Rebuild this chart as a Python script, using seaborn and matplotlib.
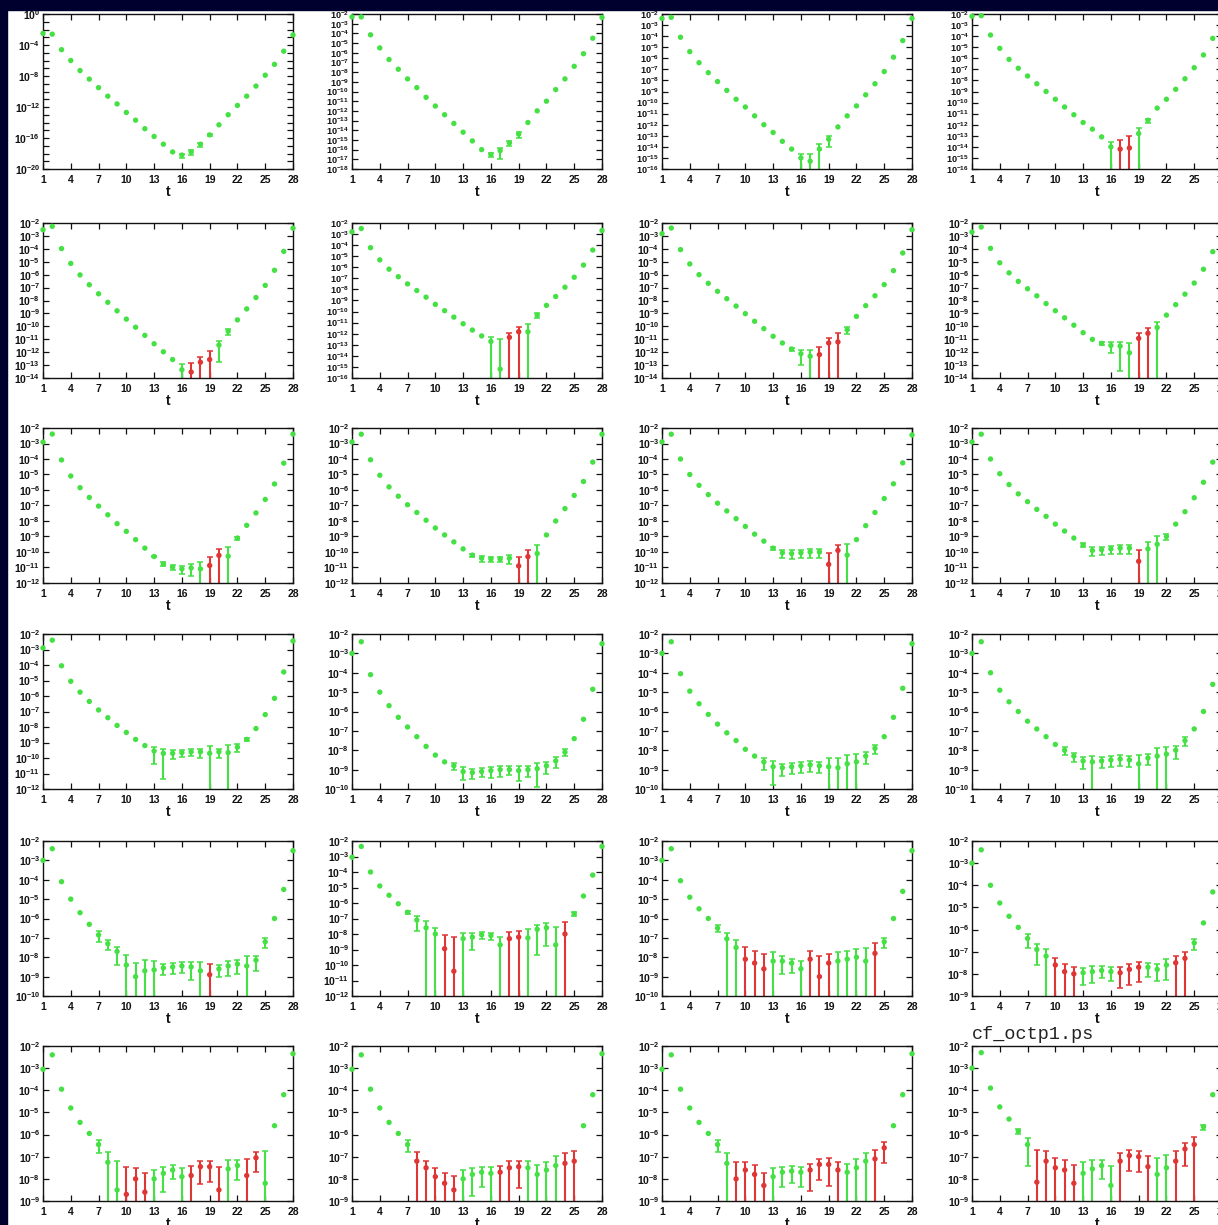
import numpy as np
import pandas as pd
import matplotlib
matplotlib.use("Agg")
import matplotlib.pyplot as plt
from matplotlib.patches import Rectangle
from matplotlib.ticker import FixedLocator, FuncFormatter, NullLocator
import seaborn as sns

# Euclidean time slices and axis ticks
t_slices = list(range(1, 29))
t_ticks = [1, 4, 7, 10, 13, 16, 19, 22, 25, 28]

# Each panel: log10|C(t)|, log10(sigma) (None = error too small to show),
# time slices where C(t) < 0, and the lowest decade on the y axis.
c01 = [-2.5, -2.6, -4.6, -6.0, -7.3, -8.4, -9.5, -10.6, -11.6, -12.7, -13.7, -14.8, -15.8, -16.8,
       -17.8, -18.2, -17.8, -16.8, -15.6, -14.3, -13.0, -11.8, -10.6, -9.3, -7.9, -6.5, -4.8, -2.7]
e01 = [None] * 15 + [-18.44, -18.04, -17.04, -16.2] + [None] * 9
n01 = []
f01 = -20

c02 = [-2.3, -2.3, -4.15, -5.5, -6.7, -7.7, -8.7, -9.6, -10.6, -11.5, -12.4, -13.3, -14.2, -15.1,
       -16.0, -16.5, -16.1, -15.3, -14.4, -13.2, -12.0, -11.0, -9.8, -8.7, -7.4, -6.1, -4.5, -2.35]
e02 = [None] * 15 + [-16.8, -16.16, -15.6, -14.64] + [None] * 9
n02 = []
f02 = -18

c03 = [-2.4, -2.3, -4.1, -5.4, -6.4, -7.3, -8.1, -8.9, -9.7, -10.4, -11.2, -12.0, -12.7, -13.5,
       -14.2, -15.0, -15.3, -14.2, -13.3, -12.2, -11.2, -10.3, -9.3, -8.3, -7.2, -5.9, -4.4, -2.4]
e03 = [None] * 15 + [-14.85, -14.7, -13.95, -13.4] + [None] * 9
n03 = []
f03 = -16

c04 = [-2.2, -2.15, -3.9, -5.1, -6.1, -6.9, -7.6, -8.3, -9.0, -9.7, -10.4, -11.1, -11.8, -12.4,
       -13.1, -14.0, -14.2, -14.1, -12.8, -11.6, -10.5, -9.7, -8.8, -7.85, -6.85, -5.7, -4.2, -2.2]
e04 = [None] * 15 + [-13.8, -13.5, -13.1, -12.45, -11.95] + [None] * 8
n04 = [17, 18]
f04 = -16

c05 = [-2.52, -2.26, -3.98, -5.13, -6.02, -6.78, -7.48, -8.14, -8.8, -9.44, -10.07, -10.7, -11.35, -11.97,
       -12.57, -13.36, -13.54, -12.78, -12.57, -11.45, -10.38, -9.5, -8.65, -7.77, -6.83, -5.66, -4.2, -2.4]
e05 = [None] * 15 + [-13.15, -12.9, -12.6, -12.0, -11.47, -10.73] + [None] * 7
n05 = [17, 18, 19]
f05 = -14

c06 = [-2.8, -2.5, -4.23, -5.33, -6.17, -6.85, -7.5, -8.1, -8.7, -9.35, -9.92, -10.5, -11.1, -11.67,
       -12.2, -12.7, -15.2, -12.33, -11.82, -11.82, -10.33, -9.44, -8.64, -7.8, -6.9, -5.8, -4.44, -2.68]
e06 = [None] * 15 + [-12.55, -12.5, -12.15, -11.6, -11.2, -10.68] + [None] * 7
n06 = [18, 19]
f06 = -16

c07 = [-2.83, -2.39, -4.06, -5.17, -6.0, -6.67, -7.29, -7.86, -8.43, -9.02, -9.61, -10.18, -10.77, -11.29,
       -11.75, -12.12, -12.32, -12.19, -11.29, -11.21, -10.26, -9.23, -8.4, -7.63, -6.77, -5.69, -4.32, -2.52]
e07 = [None] * 14 + [-12.35, -12.18, -11.95, -11.72, -11.1, -10.65, -10.5] + [None] * 7
n07 = [18, 19, 20]
f07 = -14

c08 = [-2.7, -2.31, -3.96, -5.08, -5.86, -6.52, -7.09, -7.64, -8.24, -8.79, -9.34, -9.91, -10.49, -11.01,
       -11.32, -11.48, -11.53, -12.05, -10.93, -10.54, -10.09, -9.13, -8.32, -7.51, -6.65, -5.58, -4.22, -2.4]
e08 = [None] * 14 + [-11.92, -11.6, -11.535, -11.4, -10.78, -10.4, -9.9] + [None] * 7
n08 = [19, 20]
f08 = -14

c09 = [-2.91, -2.39, -4.06, -5.1, -5.85, -6.48, -7.04, -7.6, -8.17, -8.67, -9.2, -9.75, -10.29, -10.77,
       -10.98, -11.09, -11.03, -11.09, -10.87, -10.22, -10.27, -9.1, -8.28, -7.48, -6.61, -5.61, -4.27, -2.39]
e09 = [None] * 12 + [-11.2, -11.37, -11.4, -11.37, -11.2, -10.8, -10.5, -10.0, -9.8, -9.7] + [None] * 6
n09 = [19, 20]
f09 = -12

c10 = [-2.9, -2.4, -4.05, -5.05, -5.8, -6.4, -6.95, -7.45, -7.95, -8.45, -8.9, -9.35, -9.8, -10.2,
       -10.4, -10.45, -10.45, -10.4, -10.9, -10.3, -10.1, -8.9, -8.0, -7.2, -6.35, -5.45, -4.2, -2.4]
e10 = [None] * 13 + [-10.8, -10.8, -10.85, -10.85, -10.64, -10.45, -10.05, -9.65] + [None] * 7
n10 = [19, 20]
f10 = -12

c11 = [-2.9, -2.4, -4.0, -5.0, -5.7, -6.3, -6.85, -7.35, -7.85, -8.35, -8.85, -9.3, -9.75, -10.05,
       -10.1, -10.05, -10.0, -10.0, -10.8, -9.9, -10.2, -9.2, -8.3, -7.45, -6.55, -5.6, -4.25, -2.45]
e11 = [None] * 12 + [-10.4, -10.3, -10.34, -10.3, -10.25, -10.25, -10.15, -9.75, -9.55] + [None] * 7
n11 = [19, 20]
f11 = -12

c12 = [-2.9, -2.4, -4.0, -4.95, -5.65, -6.25, -6.75, -7.25, -7.7, -8.2, -8.65, -9.1, -9.55, -9.9,
       -9.85, -9.8, -9.75, -9.75, -10.6, -9.8, -9.5, -9.0, -8.2, -7.4, -6.5, -5.5, -4.2, -2.4]
e12 = [None] * 12 + [-10.1, -10.15, -10.1, -10.05, -10.0, -10.0, -10.0, -9.55, -9.1, -9.4] + [None] * 6
n12 = [19]
f12 = -12

c13 = [-2.9, -2.4, -4.05, -5.05, -5.75, -6.35, -6.9, -7.4, -7.9, -8.35, -8.8, -9.2, -9.55, -9.7,
       -9.7, -9.65, -9.6, -9.6, -9.7, -9.6, -9.65, -9.3, -8.8, -8.1, -7.2, -6.15, -4.45, -2.45]
e13 = [None] * 12 + [-9.62, -9.71, -9.94, -10.0, -9.95, -9.84, -9.45, -9.84, -9.35, -9.6, -9.4] + [None] * 5
n13 = []
f13 = -12

c14 = [-3.0, -2.4, -4.1, -5.0, -5.7, -6.3, -6.8, -7.3, -7.8, -8.25, -8.6, -8.8, -9.1, -9.15,
       -9.1, -9.05, -9.0, -9.0, -9.05, -9.0, -8.95, -8.8, -8.55, -8.1, -7.4, -6.4, -4.85, -2.5]
e14 = [None] * 11 + [-9.2, -9.3, -9.4, -9.4, -9.3, -9.25, -9.3, -9.2, -9.25, -9.0, -9.0, -8.8, -8.5] + [None] * 4
n14 = []
f14 = -10

c15 = [-3.0, -2.4, -4.05, -4.95, -5.6, -6.15, -6.65, -7.1, -7.5, -7.95, -8.3, -8.6, -8.85, -8.9,
       -8.85, -8.8, -8.75, -8.8, -8.85, -8.9, -8.7, -8.6, -8.3, -7.9, -7.3, -6.3, -4.8, -2.5]
e15 = [None] * 11 + [-8.8, -8.9, -9.1, -9.1, -9.05, -9.0, -9.05, -8.6, -8.6, -8.45, -8.4, -8.5, -8.2] + [None] * 4
n15 = []
f15 = -10

c16 = [-3.0, -2.4, -4.0, -4.9, -5.5, -6.0, -6.5, -6.9, -7.3, -7.7, -8.0, -8.3, -8.55, -8.6,
       -8.55, -8.5, -8.45, -8.5, -8.7, -8.4, -8.3, -8.2, -8.0, -7.5, -6.9, -6.0, -4.6, -2.5]
e16 = [None] * 10 + [-8.4, -8.6, -8.75, -8.6, -8.8, -8.75, -8.7, -8.75, -8.4, -8.65, -8.1, -8.1, -8.2, -7.8] + [None] * 4
n16 = []
f16 = -10

c17 = [-3.0, -2.4, -4.1, -5.0, -5.7, -6.3, -6.85, -7.3, -7.7, -8.4, -9.0, -8.7, -8.65, -8.55,
       -8.5, -8.45, -8.5, -8.7, -8.9, -8.6, -8.45, -8.35, -8.45, -8.15, -7.2, -6.0, -4.5, -2.5]
e17 = [None] * 6 + [-7.1, -7.6, -7.8, -8.05, -8.4, -8.3, -8.4, -8.8, -8.75, -8.7, -8.6, -8.4, -8.5,
                    -8.8, -8.6, -8.5, -8.1, -8.3, -7.5] + [None] * 3
n17 = [19]
f17 = -10

c18 = [-3.05, -2.35, -4.0, -4.9, -5.5, -6.05, -6.6, -7.1, -7.6, -8.0, -8.95, -10.4, -8.3, -8.2,
       -8.05, -8.1, -8.7, -8.3, -8.2, -8.25, -7.7, -7.6, -8.7, -8.0, -6.7, -5.55, -4.2, -2.35]
e18 = [None] * 6 + [-7.2, -7.2, -7.4, -7.8, -8.15, -8.2, -8.15, -8.27, -8.4, -8.45, -8.35, -8.1, -8.0,
                    -7.85, -7.71, -7.63, -7.55, -7.3, -7.3] + [None] * 3
n18 = [11, 12, 18, 19, 24]
f18 = -12

c19 = [-3.0, -2.4, -4.05, -4.9, -5.5, -6.0, -6.5, -7.05, -7.5, -8.1, -8.3, -8.6, -8.2, -8.2,
       -8.3, -8.6, -8.1, -9.0, -8.3, -8.2, -8.1, -8.0, -8.2, -7.8, -7.2, -6.0, -4.6, -2.5]
e19 = [None] * 6 + [-6.9, -7.0, -7.3, -7.6, -7.8, -7.9, -7.9, -8.3, -8.45, -8.4, -7.9, -8.0, -8.0,
                    -7.9, -7.85, -7.8, -7.6, -7.4, -7.5] + [None] * 3
n19 = [10, 11, 12, 17, 18, 19, 24]
f19 = -10

c20 = [-3.0, -2.4, -4.0, -4.8, -5.4, -5.9, -6.4, -6.9, -7.2, -7.6, -7.9, -8.0, -7.95, -7.9,
       -7.85, -7.9, -7.95, -7.8, -7.7, -7.7, -7.8, -7.6, -7.5, -7.3, -6.6, -5.7, -4.3, -2.4]
e20 = [None] * 6 + [-6.6, -7.0, -7.2, -7.6, -7.8, -8.0, -8.1, -8.05, -8.1, -8.1, -8.05, -7.9, -7.8,
                    -7.9, -7.95, -7.7, -7.5, -7.3, -6.9] + [None] * 3
n20 = [10, 11, 12, 17, 18, 19, 23, 24]
f20 = -9

c21 = [-3.05, -2.4, -3.95, -4.8, -5.45, -5.95, -6.45, -7.25, -8.5, -8.7, -8.0, -8.6, -8.0, -7.75,
       -7.6, -7.9, -7.85, -7.45, -7.45, -8.5, -7.55, -7.4, -7.85, -7.05, -8.2, -5.6, -4.2, -2.35]
e21 = [None] * 6 + [-6.67, -6.95, -7.23, -7.48, -7.65, -7.82, -7.8, -7.82, -7.82, -7.75, -7.62, -7.53,
                    -7.55, -7.5, -7.35, -7.51, -7.2, -7.16, -6.78] + [None] * 3
n21 = [10, 11, 12, 17, 18, 19, 20, 23, 24]
f21 = -9

c22 = [-3.05, -2.4, -3.95, -4.8, -5.45, -5.95, -6.45, -7.2, -7.5, -7.9, -8.2, -8.5, -8.0, -7.8,
       -7.7, -7.75, -7.7, -7.5, -7.45, -7.5, -7.8, -7.6, -7.4, -7.3, -7.2, -5.6, -4.2, -2.35]
e22 = [None] * 6 + [-6.7, -7.0, -7.5, -7.75, -7.95, -8.0, -7.8, -7.85, -7.8, -7.75, -7.7, -7.5, -7.5,
                    -7.45, -7.6, -7.45, -7.2, -7.0, -6.9] + [None] * 3
n22 = [8, 9, 10, 11, 12, 17, 18, 19, 24, 25]
f22 = -9

c23 = [-3.05, -2.4, -3.95, -4.8, -5.45, -5.95, -6.45, -7.3, -8.0, -7.6, -7.8, -8.3, -7.9, -7.7,
       -7.65, -7.7, -7.6, -7.35, -7.35, -7.6, -7.7, -7.5, -7.2, -7.1, -6.6, -5.6, -4.2, -2.35]
e23 = [None] * 6 + [-6.7, -7.0, -7.3, -7.5, -7.6, -7.9, -7.75, -7.8, -7.8, -7.8, -7.65, -7.45, -7.4,
                    -7.5, -7.55, -7.35, -7.1, -6.95, -6.7] + [None] * 3
n23 = [9, 10, 11, 12, 17, 18, 19, 20, 24, 25]
f23 = -9

c24 = [-3.0, -2.3, -3.9, -4.75, -5.3, -5.85, -6.45, -8.15, -7.2, -7.5, -7.6, -8.2, -7.75, -7.55,
       -7.4, -8.3, -7.2, -6.95, -7.0, -7.45, -7.8, -7.5, -7.2, -6.65, -6.45, -5.65, -4.2, -2.3]
e24 = [None] * 5 + [-6.45, -6.5, -6.72, -6.92, -7.22, -7.32, -7.42, -7.42, -7.37, -7.52, -7.48, -7.05,
                    -7.05, -7.1, -7.12, -7.15, -7.03, -6.92, -6.73, -6.35, -6.25] + [None] * 2
n24 = [8, 9, 10, 11, 12, 17, 18, 19, 20, 23, 24, 25]
f24 = -9

panels = [
    (c01, e01, n01, f01), (c02, e02, n02, f02), (c03, e03, n03, f03), (c04, e04, n04, f04),
    (c05, e05, n05, f05), (c06, e06, n06, f06), (c07, e07, n07, f07), (c08, e08, n08, f08),
    (c09, e09, n09, f09), (c10, e10, n10, f10), (c11, e11, n11, f11), (c12, e12, n12, f12),
    (c13, e13, n13, f13), (c14, e14, n14, f14), (c15, e15, n15, f15), (c16, e16, n16, f16),
    (c17, e17, n17, f17), (c18, e18, n18, f18), (c19, e19, n19, f19), (c20, e20, n20, f20),
    (c21, e21, n21, f21), (c22, e22, n22, f22), (c23, e23, n23, f23), (c24, e24, n24, f24),
]

GREEN = "#44e044"
RED = "#e03535"
NAVY = "#00002e"
INK = "#111111"

sns.set_theme(style="ticks")
plt.rcParams.update({
    "font.family": ["Liberation Sans", "DejaVu Sans"],
    "font.weight": "bold",
    "mathtext.fontset": "custom",
    "mathtext.rm": "Liberation Sans:bold",
    "mathtext.bf": "Liberation Sans:bold",
    "axes.edgecolor": INK,
    "axes.linewidth": 1.0,
    "xtick.direction": "in",
    "ytick.direction": "in",
    "xtick.top": True,
    "ytick.right": True,
})

W, H = 1218, 1225
fig = plt.figure(figsize=(W / 100, H / 100), dpi=100, facecolor="white")

col_left = [43, 352, 662, 972]
row_top = [14, 223, 428, 634, 841, 1046]
AX_W, AX_H = 250, 155


def decade_label(step):
    def fmt(v, pos):
        e = int(round(np.log10(v)))
        if e % step != 0:
            return ""
        return r"$\mathbf{10^{%d}}$" % e
    return fmt


for k, (logc, loge, neg, floor) in enumerate(panels):
    r, c = divmod(k, 4)
    ax = fig.add_axes([col_left[c] / W, 1 - (row_top[r] + AX_H) / H, AX_W / W, AX_H / H])
    top = 0 if floor <= -20 else -2
    step = 4 if floor <= -20 else 1
    n_labels = (top - floor) // step + 1
    ysize = 7.5 if n_labels <= 13 else 6.6

    val = 10.0 ** np.array(logc, dtype=float)
    sig = np.array([0.0 if e is None else 10.0 ** e for e in loge])
    sign = ["neg" if ti in neg else "pos" for ti in t_slices]
    df = pd.DataFrame({"t": t_slices, "C": val, "err": sig, "sign": sign})

    ax.set_yscale("log")
    y_bottom = 10.0 ** floor
    floor_pad = 10.0 ** (floor - 4)
    for s, colr in (("pos", GREEN), ("neg", RED)):
        sub = df[(df["sign"] == s) & (df["err"] > 0)]
        if sub.empty:
            continue
        lower = np.maximum(sub["C"] - sub["err"], floor_pad)
        ax.errorbar(sub["t"], sub["C"], yerr=[sub["C"] - lower, sub["err"]], fmt="none",
                    ecolor=colr, elinewidth=1.5, capsize=2.2, capthick=1.1, zorder=2)

    sns.scatterplot(data=df, x="t", y="C", hue="sign", palette={"pos": GREEN, "neg": RED},
                    s=15, linewidth=0, legend=False, ax=ax, zorder=3, clip_on=False)

    ax.set_xlim(1, 28)
    ax.set_ylim(y_bottom, 10.0 ** top)
    ax.xaxis.set_major_locator(FixedLocator(t_ticks))
    ax.xaxis.set_minor_locator(NullLocator())
    ax.yaxis.set_major_locator(FixedLocator([10.0 ** e for e in range(floor, top + 1)]))
    ax.yaxis.set_minor_locator(NullLocator())
    ax.yaxis.set_major_formatter(FuncFormatter(decade_label(step)))
    ax.tick_params(axis="both", length=4, width=0.9, color=INK, labelcolor=INK)
    ax.tick_params(axis="x", labelsize=7.5, pad=4)
    ax.tick_params(axis="y", labelsize=ysize, pad=2)
    for lab in ax.get_xticklabels():
        lab.set_fontweight("bold")
    ax.set_xlabel("t", fontsize=10, fontweight="bold", color=INK, labelpad=0)
    ax.set_ylabel("")
    for sp in ax.spines.values():
        sp.set_visible(True)

fig.text(972 / W, 1 - 1039 / H, "cf_octp1.ps", fontfamily="Liberation Mono",
         fontsize=13.3, fontweight="normal", color="#222222", va="baseline", ha="left")

# slide background showing along the top and left edges
fig.add_artist(Rectangle((0, 0), 7 / W, 1, transform=fig.transFigure, color=NAVY, zorder=10))
fig.add_artist(Rectangle((0, 1 - 10 / H), 1, 10 / H, transform=fig.transFigure, color=NAVY, zorder=10))

fig.savefig("out.png", dpi=100, facecolor="white")
